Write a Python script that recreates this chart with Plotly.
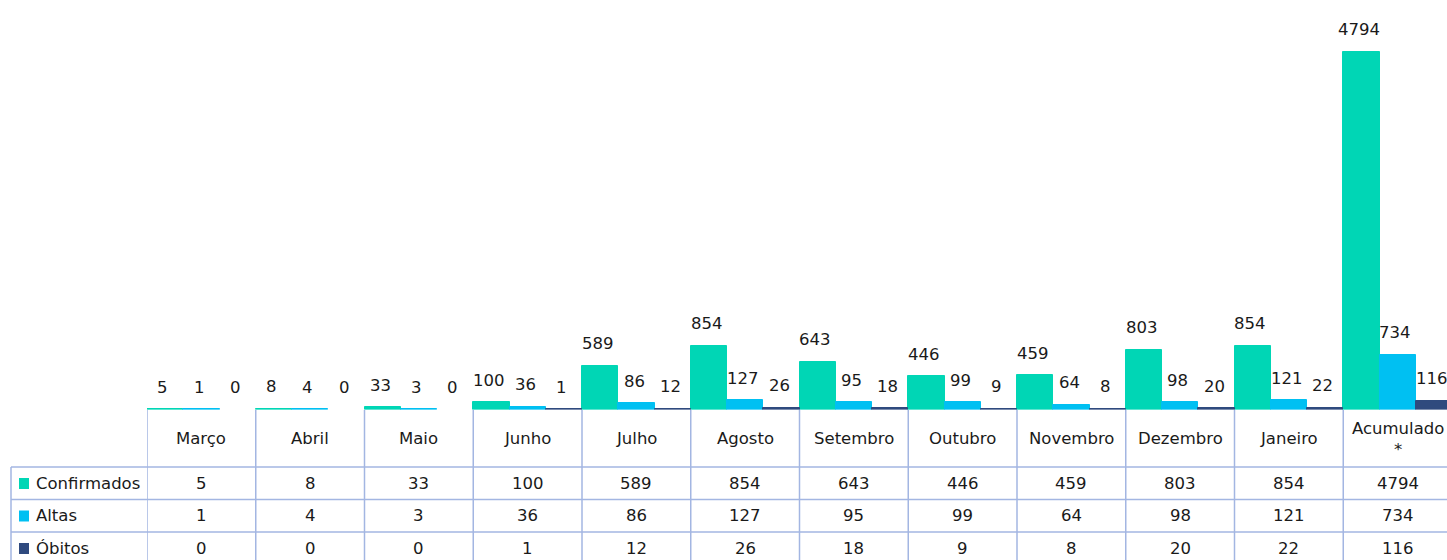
import plotly.graph_objects as go

categories = ["Março", "Abril", "Maio", "Junho", "Julho", "Agosto", "Setembro",
              "Outubro", "Novembro", "Dezembro", "Janeiro", "Acumulado<br>*"]
series_names = ["Confirmados", "Altas", "Óbitos"]
confirmados = [5, 8, 33, 100, 589, 854, 643, 446, 459, 803, 854, 4794]
altas = [1, 4, 3, 36, 86, 127, 95, 99, 64, 98, 121, 734]
obitos = [0, 0, 0, 1, 12, 26, 18, 9, 8, 20, 22, 116]
colors = ["#00D6B5", "#00C0F2", "#2F4A7E"]

series = [confirmados, altas, obitos]
W, H = 1447, 560
FONT = "DejaVu Sans, Verdana, sans-serif"
FS = 16.5
TXT = "#1a1a1a"
GRID = "#A3B6E2"

plot_left = 147
cat_w = 108.75
baseline_px = 409.5
px_per_unit = 0.0746
ymax = baseline_px / px_per_unit
xmax = -0.5 + (W - plot_left) / cat_w

def py(p):
    return (H - p) / H

fig = go.Figure()
idx = list(range(len(categories)))
offsets = [-1/3, 0, 1/3]
for name, vals, col in zip(series_names, series, colors):
    fig.add_trace(go.Bar(
        x=idx, y=vals, name=name,
        marker=dict(color=col, line=dict(color=col, width=[1 if v > 0 else 0 for v in vals])),
        showlegend=False, hoverinfo="skip"))

annotations = []
for vals, off in zip(series, offsets):
    for i, v in enumerate(vals):
        annotations.append(dict(x=i + off - 0.02, y=v, xref="x", yref="y", text=str(v),
                                showarrow=False, yanchor="middle", yshift=22,
                                font=dict(family=FONT, size=FS, color=TXT)))

shapes = []
# vertical table lines
for k in range(len(categories) + 1):
    shapes.append(dict(type="line", xref="x", yref="paper", x0=k - 0.5, x1=k - 0.5,
                       y0=py(410), y1=py(560), line=dict(color=GRID, width=1.5)))
# left border of label column
shapes.append(dict(type="line", xref="paper", yref="paper", x0=11 / W, x1=11 / W,
                   y0=py(467), y1=py(560), line=dict(color=GRID, width=1.5)))
row_lines = [467, 499.5, 532]
for r in row_lines:
    shapes.append(dict(type="line", xref="paper", yref="paper", x0=11 / W, x1=1,
                       y0=py(r), y1=py(r), line=dict(color=GRID, width=1.5)))

# header labels
for i, c in enumerate(categories):
    annotations.append(dict(x=i, y=py(438.5), xref="x", yref="paper", text=c,
                            showarrow=False, yanchor="middle",
                            font=dict(family=FONT, size=FS, color=TXT)))
row_centers = [483, 515.5, 548]
for name, vals, col, rc in zip(series_names, series, colors, row_centers):
    shapes.append(dict(type="rect", xref="paper", yref="paper",
                       x0=19 / W, x1=29 / W, y0=py(rc + 6), y1=py(rc - 5),
                       fillcolor=col, line=dict(width=0)))
    annotations.append(dict(x=34 / W, y=py(rc), xref="paper", yref="paper", text=name,
                            showarrow=False, xanchor="left", yanchor="middle",
                            font=dict(family=FONT, size=FS, color=TXT)))
    for i, v in enumerate(vals):
        annotations.append(dict(x=i, y=py(rc), xref="x", yref="paper", text=str(v),
                                showarrow=False, yanchor="middle",
                                font=dict(family=FONT, size=FS, color=TXT)))

fig.update_layout(
    width=W, height=H,
    margin=dict(l=0, r=0, t=0, b=0),
    paper_bgcolor="white", plot_bgcolor="white",
    barmode="group", bargap=0, bargroupgap=0,
    xaxis=dict(domain=[plot_left / W, 1], range=[-0.5, xmax], visible=False,
               showgrid=False, zeroline=False),
    yaxis=dict(domain=[(H - baseline_px) / H, 1], range=[0, ymax], visible=False,
               showgrid=False, zeroline=False),
    annotations=annotations, shapes=shapes,
)
fig.write_html("out.html", config={"displayModeBar": False},
               post_script="document.body.style.margin='0';document.body.style.overflow='hidden';")
